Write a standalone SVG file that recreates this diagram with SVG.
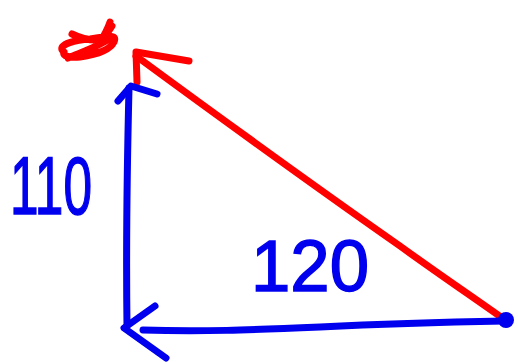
<svg xmlns="http://www.w3.org/2000/svg" width="518" height="362" viewBox="0 0 518 362">
<style>
.b{fill:none;stroke:#0000ee;stroke-width:7;stroke-linecap:round;stroke-linejoin:round}
.r{fill:none;stroke:#ff0000;stroke-width:7;stroke-linecap:round;stroke-linejoin:round}
.t{font-family:"Liberation Sans",Arial,sans-serif;fill:#0000ee;stroke:#0000ee;stroke-width:1.5}
</style>
<rect width="518" height="362" fill="#fff"/>
<g id="connectors">
<path class="r" d="M505,320 C480,302 440,275 400,246 C320,190 230,125 136,56"/>
<path class="r" d="M137,82 L136,52 L189,61"/>
<path class="b" d="M127,326 C126,250 127,170 129,88"/>
<path class="b" d="M118,101 L131,86 L157,94"/>
<path class="b" d="M143,330 C200,332 250,330 320,327 C400,323 450,322 505,321"/>
<path class="b" d="M155,306 L124,328 L166,358"/>
<circle cx="506" cy="320" r="8" fill="#0000ee"/>
</g>
<g id="mark">
<path class="r" d="M72,34 C80,38 88,40 96,40 M62,50 C60,44 75,40 90,39 C105,37 118,33 114,42 C110,50 95,55 80,57 C70,58 62,56 64,52 M68,58 C82,52 100,46 110,38 M85,56 C95,48 105,38 112,26 M100,42 C105,34 108,28 110,22"/>
</g>
<g id="label110">
<text class="t" x="10" y="214" font-size="82" textLength="82" lengthAdjust="spacingAndGlyphs">110</text>
</g>
<g id="label120">
<text class="t" x="251" y="291" font-size="72" textLength="118" lengthAdjust="spacingAndGlyphs">120</text>
</g>
</svg>
